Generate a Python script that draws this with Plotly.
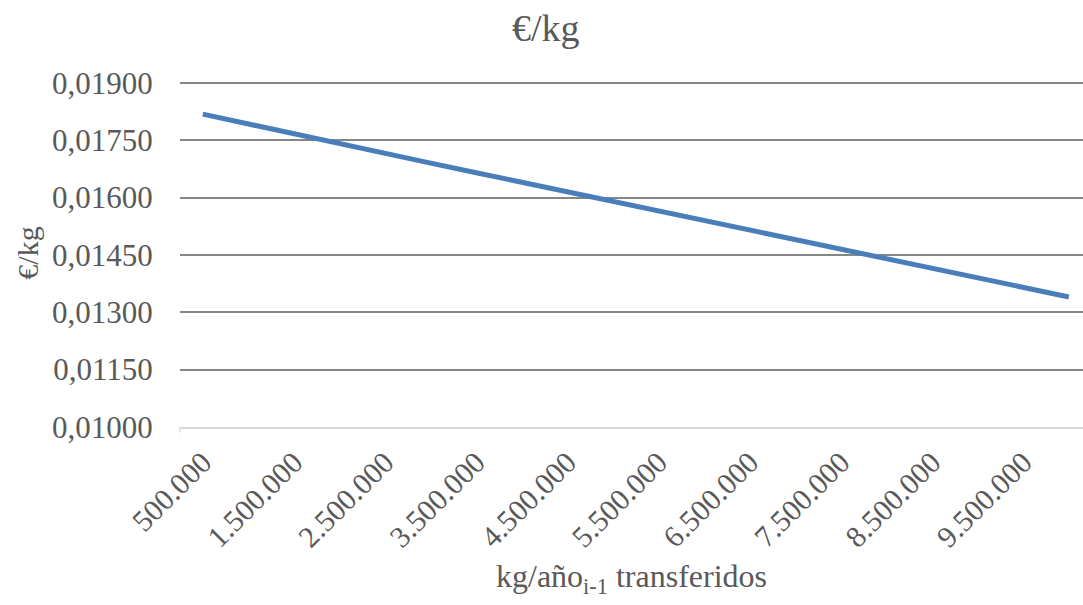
import plotly.graph_objects as go

# Categories: kg/año transferidos (every 500.000)
categories = ["500.000", "1.000.000", "1.500.000", "2.000.000", "2.500.000",
              "3.000.000", "3.500.000", "4.000.000", "4.500.000", "5.000.000",
              "5.500.000", "6.000.000", "6.500.000", "7.000.000", "7.500.000",
              "8.000.000", "8.500.000", "9.000.000", "9.500.000", "10.000.000"]
# €/kg values
values = [0.01818, 0.01792, 0.01765, 0.01740, 0.01715,
          0.01690, 0.01665, 0.01640, 0.01615, 0.01591,
          0.01566, 0.01541, 0.01516, 0.01491, 0.01464,
          0.01439, 0.01414, 0.01389, 0.01365, 0.01340]
tick_labels = categories[::2]
y_ticks = [0.0100, 0.0115, 0.0130, 0.0145, 0.0160, 0.0175, 0.0190]

FONT = "Liberation Serif"
TXT = "#595959"

fig = go.Figure()
fig.add_trace(go.Scatter(
    x=categories, y=values, mode="lines",
    line=dict(color="#4A7EBB", width=5, shape="linear"),
    showlegend=False, hoverinfo="skip",
))

fig.update_layout(
    width=1083, height=605,
    margin=dict(l=180, r=0, t=79, b=178),
    paper_bgcolor="white", plot_bgcolor="white",
    separators=",.",
    font=dict(family=FONT, color=TXT, size=30),
    title=dict(text="€/kg", x=0.504, xanchor="center", y=0.954, yanchor="middle",
               font=dict(family=FONT, size=38, color=TXT)),
    xaxis=dict(
        type="category",
        range=[-0.5, 19.31],
        tickmode="array", tickvals=tick_labels, ticktext=tick_labels,
        tickangle=-45,
        tickfont=dict(family=FONT, size=30, color=TXT),
        showgrid=False, zeroline=False,
        showline=True, linecolor="#D9D9D9", linewidth=1.5,
        ticks="outside", ticklen=4, tickcolor="rgba(0,0,0,0)",
        title=dict(text="kg/año<sub>i-1</sub> transferidos",
                   font=dict(family=FONT, size=32, color=TXT), standoff=12),
    ),
    yaxis=dict(
        range=[0.0100, 0.0191],
        tickmode="array", tickvals=y_ticks, tickformat=".5f",
        tickfont=dict(family=FONT, size=31, color=TXT),
        showgrid=True, gridcolor="#868686", gridwidth=1.5,
        zeroline=False, showline=False,
        ticks="outside", ticklen=20, tickcolor="rgba(0,0,0,0)",
        title=dict(text="€/kg", font=dict(family=FONT, size=30, color=TXT), standoff=4),
    ),
    shapes=[dict(type="line", xref="paper", yref="paper", x0=0, x1=0, y0=0, y1=-0.016,
                 line=dict(color="#D9D9D9", width=1.5))],
)

fig.write_html("out.html", config={"displayModeBar": False},
               post_script="document.body.style.margin='0';")
